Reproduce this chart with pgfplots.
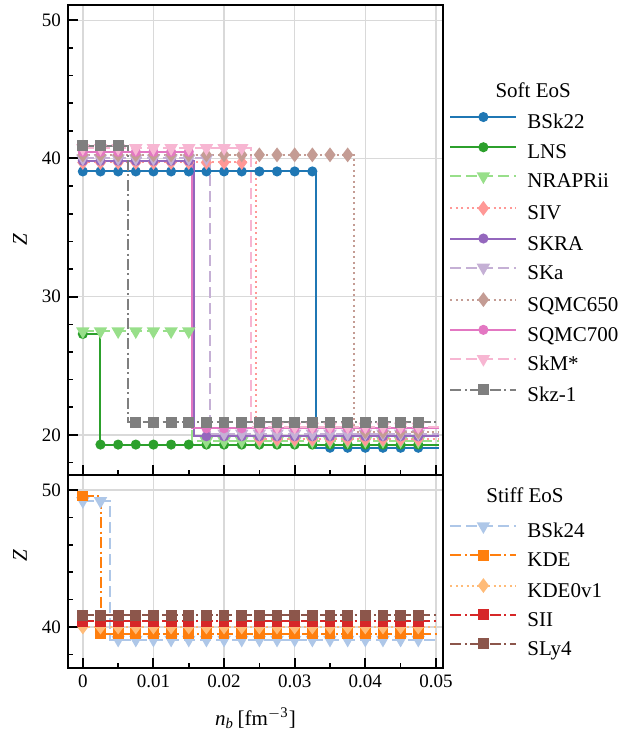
\documentclass[border=0pt]{standalone}
\usepackage{fontspec}
\setmainfont{Liberation Serif}
\usepackage{pgfplots}
\usepackage{pgfplotstable}
\pgfplotsset{compat=1.18}

\definecolor{tabblue}{HTML}{1F77B4}
\definecolor{tabgreen}{HTML}{2CA02C}
\definecolor{ltgreen}{HTML}{98DF8A}
\definecolor{ltred}{HTML}{FF9896}
\definecolor{tabpurple}{HTML}{9467BD}
\definecolor{ltpurple}{HTML}{C5B0D5}
\definecolor{ltbrown}{HTML}{C49C94}
\definecolor{tabpink}{HTML}{E377C2}
\definecolor{ltpink}{HTML}{F7B6D2}
\definecolor{tabgray}{HTML}{7F7F7F}
\definecolor{ltblue}{HTML}{AEC7E8}
\definecolor{taborange}{HTML}{FF7F0E}
\definecolor{ltorange}{HTML}{FFBB78}
\definecolor{tabred}{HTML}{D62728}
\definecolor{tabbrown}{HTML}{8C564B}

% marker positions, soft EoS
\pgfplotstableread{
x      BSk   LNS   NRA   SIV   SKRA  SKa   SQa   SQb   SkM   Skz
0      39.06 27.3  27.5  39.71 39.83 40.0  40.26 40.48 40.75 40.91
0.0025 39.06 19.3  27.5  39.71 39.83 40.0  40.26 40.48 40.75 40.91
0.005  39.06 19.3  27.5  39.71 39.83 40.0  40.26 40.48 40.75 40.91
0.0075 39.06 19.3  27.5  39.71 39.83 40.0  40.26 40.48 40.75 20.9
0.01   39.06 19.3  27.5  39.71 39.83 40.0  40.26 40.48 40.75 20.9
0.0125 39.06 19.3  27.5  39.71 39.83 40.0  40.26 40.48 40.75 20.9
0.015  39.06 19.3  27.5  39.71 39.83 40.0  40.26 40.48 40.75 20.9
0.0175 39.06 19.3  19.56 39.71 19.9  40.0  40.26 20.48 40.75 20.9
0.02   39.06 19.3  19.56 39.71 19.9  20.1  40.26 20.48 40.75 20.9
0.0225 39.06 19.3  19.56 39.71 19.9  20.1  40.26 20.48 40.75 20.9
0.025  39.06 19.3  19.56 19.7  19.9  20.1  40.26 20.48 20.6  20.9
0.0275 39.06 19.3  19.56 19.7  19.9  20.1  40.26 20.48 20.6  20.9
0.03   39.06 19.3  19.56 19.7  19.9  20.1  40.26 20.48 20.6  20.9
0.0325 39.06 19.3  19.56 19.7  19.9  20.1  40.26 20.48 20.6  20.9
0.035  19.07 19.3  19.56 19.7  19.9  20.1  40.26 20.48 20.6  20.9
0.0375 19.07 19.3  19.56 19.7  19.9  20.1  40.26 20.48 20.6  20.9
0.04   19.07 19.3  19.56 19.7  19.9  20.1  20.23 20.48 20.6  20.9
0.0425 19.07 19.3  19.56 19.7  19.9  20.1  20.23 20.48 20.6  20.9
0.045  19.07 19.3  19.56 19.7  19.9  20.1  20.23 20.48 20.6  20.9
0.0475 19.07 19.3  19.56 19.7  19.9  20.1  20.23 20.48 20.6  20.9
}\soft

% marker positions, stiff EoS
\pgfplotstableread{
x      BSkb  KDE   KDEz  SII   SLy
0      49.2  49.56 40.0  40.4  40.85
0.0025 49.2  39.5  40.0  40.4  40.85
0.005  39.07 39.5  40.0  40.4  40.85
0.0075 39.07 39.5  40.0  40.4  40.85
0.01   39.07 39.5  40.0  40.4  40.85
0.0125 39.07 39.5  40.0  40.4  40.85
0.015  39.07 39.5  40.0  40.4  40.85
0.0175 39.07 39.5  40.0  40.4  40.85
0.02   39.07 39.5  40.0  40.4  40.85
0.0225 39.07 39.5  40.0  40.4  40.85
0.025  39.07 39.5  40.0  40.4  40.85
0.0275 39.07 39.5  40.0  40.4  40.85
0.03   39.07 39.5  40.0  40.4  40.85
0.0325 39.07 39.5  40.0  40.4  40.85
0.035  39.07 39.5  40.0  40.4  40.85
0.0375 39.07 39.5  40.0  40.4  40.85
0.04   39.07 39.5  40.0  40.4  40.85
0.0425 39.07 39.5  40.0  40.4  40.85
0.045  39.07 39.5  40.0  40.4  40.85
0.0475 39.07 39.5  40.0  40.4  40.85
}\stiff

\pgfplotsset{
  sline/.style={solid, line width=1pt, mark=*, mark size=2pt},
  dline/.style={dash pattern=on 5.5pt off 2.5pt, line width=1pt, mark=triangle*, mark size=2.9pt, mark options={solid, rotate=180}},
  oline/.style={dash pattern=on 1pt off 1.7pt, line width=1pt, mark=diamond*, mark size=2.9pt, mark options={solid}},
  ddline/.style={dash pattern=on 5.5pt off 1.7pt on 1pt off 1.7pt, line width=1pt, mark=square*, mark size=2.2pt, mark options={solid}},
  common/.style={
    scale only axis, width=187.5pt,
    xmin=-0.0021, xmax=0.051,
    xtick={0,0.01,0.02,0.03,0.04,0.05},
    minor xtick={0.005,0.015,0.025,0.035,0.045},
    scaled x ticks=false, scaled y ticks=false,
    xtick pos=left, ytick pos=left,
    tick align=inside,
    major tick length=5pt, minor tick length=2.5pt,
    major tick style={black, line width=1pt},
    minor tick style={black, line width=0.8pt},
    axis line style={line width=1.2pt},
    grid=major, major grid style={line width=0.7pt, black!15},
    tick label style={font=\fontsize{9.5}{11}\selectfont},
    /pgf/number format/assume math mode=true,
    ylabel style={at={(rel axis cs:0,0.5)}, anchor=center, yshift=24pt, font=\fontsize{10.5}{12}\selectfont},
    legend cell align=left,
    legend style={anchor=north west, xshift=3pt, draw=none, fill=none, inner sep=0pt,
      font=\fontsize{10.5}{12}\selectfont, row sep=5.3pt,
      nodes={inner sep=0pt, text height=7pt, text depth=2pt},
      /tikz/every odd column/.append style={column sep=5pt}},
    legend image code/.code={\draw[mark repeat=2,mark phase=2,#1] plot coordinates {(0pt,3.3pt) (16.5pt,3.3pt) (33pt,3.3pt)};},
  },
}

\begin{document}
\begin{tikzpicture}
\begin{axis}[common, name=top, height=235pt,
  ymin=17.1, ymax=51.1, ytick={20,30,40,50},
  minor ytick={18,22,24,26,28,32,34,36,38,42,44,46,48},
  xticklabels={}, ylabel={\textit{Z}},
  legend style={at={(1,0.771)}}]
\addplot[tabblue, sline, const plot, mark=none, forget plot] coordinates {(0,39.06) (0.033,19.07) (0.0505,19.07)};
\addplot[tabblue, sline, only marks, forget plot] table[x=x, y=BSk] {\soft};
\addplot[tabgreen, sline, const plot, mark=none, forget plot] coordinates {(0,27.3) (0.0024,19.3) (0.0505,19.3)};
\addplot[tabgreen, sline, only marks, forget plot] table[x=x, y=LNS] {\soft};
\addplot[ltgreen, dline, const plot, mark=none, forget plot] coordinates {(0,27.5) (0.0154,19.56) (0.0505,19.56)};
\addplot[ltgreen, dline, only marks, forget plot] table[x=x, y=NRA] {\soft};
\addplot[ltred, oline, const plot, mark=none, forget plot] coordinates {(0,39.71) (0.0245,19.7) (0.0505,19.7)};
\addplot[ltred, oline, only marks, forget plot] table[x=x, y=SIV] {\soft};
\addplot[tabpurple, sline, const plot, mark=none, forget plot] coordinates {(0,39.83) (0.0157,19.9) (0.0505,19.9)};
\addplot[tabpurple, sline, only marks, forget plot] table[x=x, y=SKRA] {\soft};
\addplot[ltpurple, dline, const plot, mark=none, forget plot] coordinates {(0,40.0) (0.018,20.1) (0.0505,20.1)};
\addplot[ltpurple, dline, only marks, forget plot] table[x=x, y=SKa] {\soft};
\addplot[ltbrown, oline, const plot, mark=none, forget plot] coordinates {(0,40.26) (0.0384,20.23) (0.0505,20.23)};
\addplot[ltbrown, oline, only marks, forget plot] table[x=x, y=SQa] {\soft};
\addplot[tabpink, sline, const plot, mark=none, forget plot] coordinates {(0,40.48) (0.0154,20.48) (0.0505,20.48)};
\addplot[tabpink, sline, only marks, forget plot] table[x=x, y=SQb] {\soft};
\addplot[ltpink, dline, const plot, mark=none, forget plot] coordinates {(0,40.75) (0.0238,20.6) (0.0505,20.6)};
\addplot[ltpink, dline, only marks, forget plot] table[x=x, y=SkM] {\soft};
\addplot[tabgray, ddline, const plot, mark=none, forget plot] coordinates {(0,40.91) (0.0064,20.9) (0.0505,20.9)};
\addplot[tabgray, ddline, only marks, forget plot] table[x=x, y=Skz] {\soft};
\addlegendimage{tabblue, sline}\addlegendentry{BSk22}
\addlegendimage{tabgreen, sline}\addlegendentry{LNS}
\addlegendimage{ltgreen, dline}\addlegendentry{NRAPRii}
\addlegendimage{ltred, oline}\addlegendentry{SIV}
\addlegendimage{tabpurple, sline}\addlegendentry{SKRA}
\addlegendimage{ltpurple, dline}\addlegendentry{SKa}
\addlegendimage{ltbrown, oline}\addlegendentry{SQMC650}
\addlegendimage{tabpink, sline}\addlegendentry{SQMC700}
\addlegendimage{ltpink, dline}\addlegendentry{SkM*}
\addlegendimage{tabgray, ddline}\addlegendentry{Skz-1}
\end{axis}

\begin{axis}[common, at={(top.south west)}, anchor=north west, height=96.5pt,
  ymin=37, ymax=51.1, ytick={40,50}, minor ytick={38,42,44,46,48},
  xticklabels={0,0.01,0.02,0.03,0.04,0.05},
  ylabel={\textit{Z}}, ylabel style={at={(rel axis cs:0,0.58)}},
  xlabel={\textit{n}\textsubscript{\textit{b}}\,[fm\textsuperscript{$-$3}]},
  xlabel style={at={(rel axis cs:0.5,0)}, anchor=center, yshift=-25pt, font=\fontsize{10.5}{12}\selectfont},
  legend style={at={(1,0.752)}, row sep=4.5pt}]
\addplot[ltblue, dline, const plot, mark=none, forget plot] coordinates {(0,49.2) (0.0038,39.07) (0.0502,39.07)};
\addplot[ltblue, dline, only marks, forget plot] table[x=x, y=BSkb] {\stiff};
\addplot[taborange, ddline, const plot, mark=none, forget plot] coordinates {(0,49.56) (0.0026,39.5) (0.0502,39.5)};
\addplot[taborange, ddline, only marks, forget plot] table[x=x, y=KDE] {\stiff};
\addplot[ltorange, oline, const plot, mark=none, forget plot] coordinates {(0,40.0) (0.0502,40.0)};
\addplot[ltorange, oline, only marks, forget plot] table[x=x, y=KDEz] {\stiff};
\addplot[tabred, ddline, const plot, mark=none, forget plot] coordinates {(0,40.4) (0.0502,40.4)};
\addplot[tabred, ddline, only marks, forget plot] table[x=x, y=SII] {\stiff};
\addplot[tabbrown, ddline, const plot, mark=none, forget plot] coordinates {(0,40.85) (0.0502,40.85)};
\addplot[tabbrown, ddline, only marks, forget plot] table[x=x, y=SLy] {\stiff};
\addlegendimage{ltblue, dline}\addlegendentry{BSk24}
\addlegendimage{taborange, ddline}\addlegendentry{KDE}
\addlegendimage{ltorange, oline}\addlegendentry{KDE0v1}
\addlegendimage{tabred, ddline}\addlegendentry{SII}
\addlegendimage{tabbrown, ddline}\addlegendentry{SLy4}
\end{axis}

\node[font=\fontsize{10.5}{12}\selectfont] at ([shift={(232.6pt,-42.8pt)}]top.north west) {Soft EoS};
\node[font=\fontsize{10.5}{12}\selectfont] at ([shift={(228.5pt,-245pt)}]top.north west) {Stiff EoS};

\pgfresetboundingbox
\path ([shift={(-34pt,2.5pt)}]top.north west) rectangle ([shift={(280pt,-362.5pt)}]top.north west);
\end{tikzpicture}
\end{document}
